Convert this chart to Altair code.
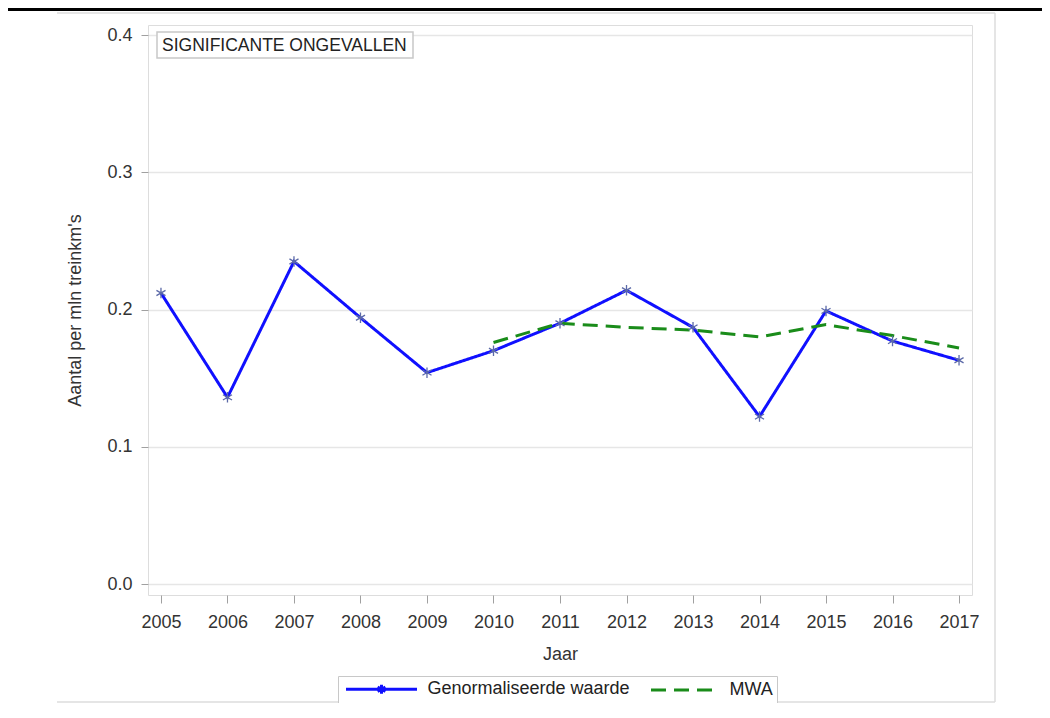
import altair as alt
import pandas as pd

# ---- data ----
years = [2005, 2006, 2007, 2008, 2009, 2010, 2011, 2012, 2013, 2014, 2015, 2016, 2017]
genormaliseerd = [0.212, 0.136, 0.235, 0.194, 0.154, 0.170, 0.190, 0.214, 0.187, 0.122, 0.199, 0.177, 0.163]
mwa_years = [2010, 2011, 2012, 2013, 2014, 2015, 2016, 2017]
mwa = [0.176, 0.190, 0.187, 0.185, 0.180, 0.189, 0.181, 0.172]
series_names = ["Genormaliseerde waarde", "MWA"]
y_ticks = [0.0, 0.1, 0.2, 0.3, 0.4]
inset_title = "SIGNIFICANTE ONGEVALLEN"

df = pd.DataFrame(
    {"jaar": years + mwa_years,
     "waarde": genormaliseerd + mwa,
     "reeks": [series_names[0]] * len(years) + [series_names[1]] * len(mwa_years)}
)
df_g = df[df["reeks"] == series_names[0]]
# legend-only rows (clipped away, outside the x domain)
df_leg = pd.DataFrame({"jaar": [1900, 1900], "waarde": [0.1, 0.1], "reeks": series_names})
one = pd.DataFrame({"a": [0]})

FONT = "Liberation Sans"
STAR = "M0,-1L0,1M-0.866,-0.5L0.866,0.5M-0.866,0.5L0.866,-0.5"
# legend symbols (scaled by 5 px per unit at size 100)
LEG_BLUE = "M-7.1,0L7.1,0M0,-0.9L0,0.9M-0.78,-0.45L0.78,0.45M-0.78,0.45L0.78,-0.45"
LEG_GREEN = "M-6.5,0L6.5,0"
BLUE = "#1010ff"
GREEN = "#1a8c1a"

X = alt.X(
    "jaar:Q",
    scale=alt.Scale(domain=[2004.805, 2017.195], nice=False, zero=False),
    axis=alt.Axis(values=years, format="d", title="Jaar", grid=False, domain=False,
                  tickSize=8, tickColor="#a0a0a0", labelPadding=10, titlePadding=14,
                  labelFontSize=18, titleFontSize=18, labelColor="#333333", titleColor="#333333",
                  titleFontWeight="normal", labelFont=FONT, titleFont=FONT),
)
Y = alt.Y(
    "waarde:Q",
    scale=alt.Scale(domain=[-0.008, 0.4073], nice=False, zero=False),
    axis=alt.Axis(values=y_ticks, format=".1f", title="Aantal per mln treinkm's", grid=True,
                  gridColor="#e6e6e6", gridWidth=1.5, domain=False,
                  tickSize=7, tickColor="#a0a0a0", labelPadding=9, titlePadding=22,
                  labelFontSize=18, titleFontSize=18, labelColor="#333333", titleColor="#333333",
                  titleFontWeight="normal", labelFont=FONT, titleFont=FONT),
)
color = alt.Color("reeks:N", scale=alt.Scale(domain=series_names, range=[BLUE, GREEN]),
                  legend=alt.Legend(title=None, orient="none", legendX=190, legendY=651,
                                    direction="horizontal", columns=2, padding=4,
                                    strokeColor="#c8c8c8", fillColor="white",
                                    labelFontSize=18, labelFont=FONT, labelColor="#222222",
                                    labelLimit=400, symbolOpacity=1,
                                    symbolSize=100, symbolOffset=30.5, labelOffset=37,
                                    columnPadding=14, symbolStrokeWidth=3))
dash = alt.StrokeDash("reeks:N", scale=alt.Scale(domain=series_names, range=[[1, 0], [15, 8]]),
                      legend=alt.Legend(title=None))
shape = alt.Shape("reeks:N", scale=alt.Scale(domain=series_names, range=[LEG_BLUE, LEG_GREEN]),
                  legend=alt.Legend(title=None))

lines = alt.Chart(df).mark_line(strokeWidth=3).encode(x=X, y=Y, color=color, strokeDash=dash)
stars = alt.Chart(df_g).mark_point(shape=STAR, size=110, color="#5c6aa8", strokeWidth=1.3,
                                   filled=False, opacity=1).encode(x=X, y=Y)
legend_layer = alt.Chart(df_leg).mark_point(clip=True, strokeWidth=3, filled=False, opacity=1).encode(
    x=X, y=Y, color=color, shape=shape)

# inset title box
inset_box = alt.Chart(one).mark_rect(fill="white", stroke="#c8c8c8", strokeWidth=1.5).encode(
    x=alt.value(9), x2=alt.value(265), y=alt.value(7), y2=alt.value(33))
inset_text = alt.Chart(one).mark_text(text=inset_title, align="left", baseline="middle",
                                      fontSize=17.5, font=FONT, color="#222222").encode(
    x=alt.value(14), y=alt.value(20.5))

# page decorations
black_line = alt.Chart(one).mark_rule(color="black", strokeWidth=3).encode(
    x=alt.value(-140), x2=alt.value(894), y=alt.value(-15.5))
frame_top = alt.Chart(one).mark_rule(color="#dcdcdc", strokeWidth=1.5).encode(
    x=alt.value(-91), x2=alt.value(847), y=alt.value(-12))
frame_right = alt.Chart(one).mark_rule(color="#dcdcdc", strokeWidth=1.5).encode(
    x=alt.value(847), y=alt.value(-12), y2=alt.value(677))
frame_bottom = alt.Chart(one).mark_rule(color="#dcdcdc", strokeWidth=1.5).encode(
    x=alt.value(-91), x2=alt.value(847), y=alt.value(677))

chart = alt.layer(
    frame_top, frame_right, frame_bottom, black_line,
    lines, stars, legend_layer, inset_box, inset_text
).properties(
    width=824, height=570,
    autosize=alt.AutoSizeParams(type="none"),
    padding={"left": 140, "top": 17, "right": 70, "bottom": 108},
).configure_view(
    stroke="#bdbdbd", strokeWidth=1.5
).configure(font=FONT, background="white")

chart.save("out.html", embed_options={"renderer": "svg", "actions": False})
